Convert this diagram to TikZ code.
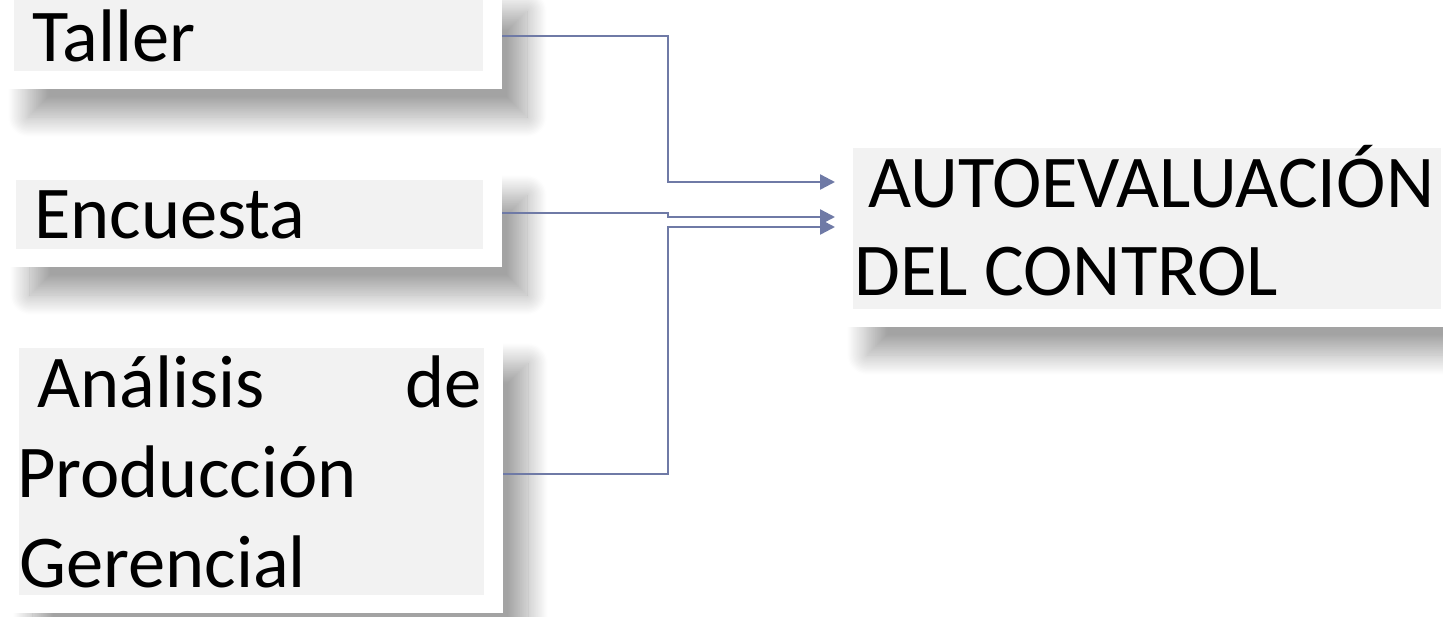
\documentclass[tikz,border=0pt]{standalone}
\usepackage{fontspec}
\setmainfont{Carlito}
\usetikzlibrary{arrows.meta,shadows.blur,calc}
\definecolor{boxgray}{HTML}{F2F2F2}
\definecolor{conncol}{RGB}{111,122,166}
\tikzset{
  box/.style={draw=none, fill=white, inner sep=0pt,
    blur shadow={shadow xshift=25pt, shadow yshift=-28pt, shadow blur radius=20pt, shadow blur steps=30, shadow opacity=36},
    path picture={\fill[boxgray] ([shift={(11pt,-13pt)}]path picture bounding box.north west) rectangle ([shift={(-19pt,18pt)}]path picture bounding box.south east);}},
  lbl/.style={inner sep=0pt, anchor=base west, font=\fontsize{74.5}{89}\selectfont},
  conn/.style={draw=conncol, line width=2.4pt, -{Triangle[length=15pt,width=15pt]}}
}
\begin{document}
\begin{tikzpicture}[x=1pt,y=-1pt]
\useasboundingbox (0,0) rectangle (1443,616);
\clip (0,0) rectangle (1443,616);
% boxes
\node[box, minimum width=499pt, minimum height=106pt] (taller) at (252.5,36) {};
\node[box, minimum width=497pt, minimum height=100pt] (enc) at (253.5,217) {};
\node[box, minimum width=495pt, minimum height=278pt] (ana) at (255.5,474) {};
\node[box, minimum width=618pt, minimum height=192pt] (auto) at (1151,231) {};
% texts
\node[lbl] (t1) at (32,61) {Taller};
\node[lbl] (t2) at (34,238) {Encuesta};
\node[lbl] (t3a) at (37,407) {Análisis};
\node[lbl, anchor=base east] (t3b) at (482,407) {de};
\node[lbl] (t3c) at (17,497) {Producción};
\node[lbl] (t3d) at (19,587) {Gerencial};
\node[lbl] (t4a) at (868,207) {AUTOEVALUACIÓN};
\node[lbl] (t4b) at (854,295) {DEL CONTROL};
% connector coordinates
\coordinate (mx) at (668,0);
\coordinate (a1) at (835,182);
\coordinate (a2) at (835,217);
\coordinate (a3) at (835,227);
\draw[conn] (taller.east) -- (taller.east -| mx) |- (a1);
\draw[conn] ([yshift=4pt]enc.east) -- ([yshift=4pt]enc.east -| mx) |- (a2);
\draw[conn] (ana.east) -- (ana.east -| mx) |- (a3);
\end{tikzpicture}
\end{document}
